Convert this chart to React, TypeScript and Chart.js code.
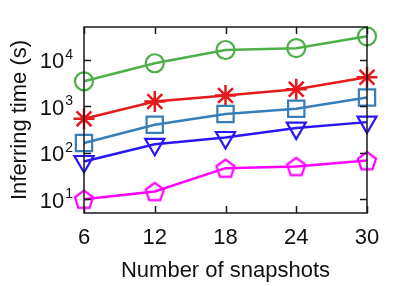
import { useEffect, useRef } from "react";
import { Chart, registerables } from "chart.js";

Chart.register(...registerables);

const snapshots = [6, 12, 18, 24, 30];
const greenCircle = [3400, 8300, 16000, 17500, 31500];
const redStar = [530, 1250, 1680, 2300, 4150];
const steelSquare = [160, 395, 670, 870, 1520];
const blueTriangle = [64, 150, 210, 335, 450];
const magentaPentagon = [9.9, 14.5, 46, 50, 67];
const yTickValues = [10, 100, 1000, 10000];
const yTickBase = "10";
const yTickExponents = ["1", "2", "3", "4"];

const FONT = "'Liberation Sans', Arial, Helvetica, sans-serif";

function makePentagon(color: string, r: number, lw: number): HTMLCanvasElement {
  const size = Math.ceil(2 * r + lw * 2 + 2);
  const c = document.createElement("canvas");
  c.width = size;
  c.height = size;
  const ctx = c.getContext("2d")!;
  const cx = size / 2;
  const cy = size / 2 + r * 0.1;
  ctx.strokeStyle = color;
  ctx.lineWidth = lw;
  ctx.lineJoin = "miter";
  ctx.beginPath();
  for (let i = 0; i < 5; i++) {
    const a = -Math.PI / 2 + (i * 2 * Math.PI) / 5;
    const px = cx + r * Math.cos(a);
    const py = cy + r * Math.sin(a);
    if (i === 0) ctx.moveTo(px, py);
    else ctx.lineTo(px, py);
  }
  ctx.closePath();
  ctx.stroke();
  return c;
}

const framePlugin = {
  id: "frame",
  afterDatasetsDraw(chart: any) {
    const { ctx, chartArea } = chart;
    const { left, right, top, bottom } = chartArea;
    const xs = chart.scales.x;
    const ys = chart.scales.y;
    const tl = 7;
    ctx.save();
    ctx.strokeStyle = "#1a1a1a";
    ctx.lineWidth = 1.5;
    ctx.beginPath();
    for (const v of snapshots) {
      const px = Math.round(xs.getPixelForValue(v)) + 0.5;
      ctx.moveTo(px, bottom);
      ctx.lineTo(px, bottom - tl);
      ctx.moveTo(px, top);
      ctx.lineTo(px, top + tl);
    }
    for (const v of yTickValues) {
      const py = Math.round(ys.getPixelForValue(v)) + 0.5;
      ctx.moveTo(left, py);
      ctx.lineTo(left + tl, py);
      ctx.moveTo(right, py);
      ctx.lineTo(right - tl, py);
    }
    ctx.stroke();
    ctx.beginPath();
    ctx.rect(left, top, right - left, bottom - top);
    ctx.stroke();

    // y tick labels with superscript exponents
    ctx.fillStyle = "#111";
    ctx.textBaseline = "alphabetic";
    ctx.textAlign = "right";
    const expRight = left - 11;
    yTickValues.forEach((v, i) => {
      const py = ys.getPixelForValue(v);
      ctx.font = `14px ${FONT}`;
      const ew = ctx.measureText(yTickExponents[i]).width;
      ctx.fillText(yTickExponents[i], expRight, py - 1);
      ctx.font = `22px ${FONT}`;
      ctx.fillText(yTickBase, expRight - ew - 1, py + 8.5);
    });
    ctx.restore();
  },
};

export default function App() {
  const ref = useRef<HTMLCanvasElement | null>(null);

  useEffect(() => {
    if (!ref.current) return;
    const pts = (arr: number[]) => snapshots.map((x, i) => ({ x, y: arr[i] }));
    const pentagon = makePentagon("#ff00ff", 9.5, 2.2);
    const chart = new Chart(ref.current, {
      type: "line",
      data: {
        datasets: [
          {
            data: pts(magentaPentagon),
            borderColor: "#ff00ff",
            backgroundColor: "transparent",
            borderWidth: 2.5,
            pointStyle: pentagon as any,
            pointRadius: 9,
          },
          {
            data: pts(blueTriangle),
            borderColor: "#2a17f5",
            backgroundColor: "transparent",
            borderWidth: 2.5,
            pointStyle: "triangle",
            pointRotation: 180,
            pointRadius: 11,
            pointBorderWidth: 2.2,
          },
          {
            data: pts(steelSquare),
            borderColor: "#377eb8",
            backgroundColor: "transparent",
            borderWidth: 2.5,
            pointStyle: "rect",
            pointRadius: 11.5,
            pointBorderWidth: 2.2,
          },
          {
            data: pts(redStar),
            borderColor: "#e41a1c",
            backgroundColor: "transparent",
            borderWidth: 2.5,
            pointStyle: "star",
            pointRadius: 10.5,
            pointBorderWidth: 2.5,
          },
          {
            data: pts(greenCircle),
            borderColor: "#4daf4a",
            backgroundColor: "transparent",
            borderWidth: 2.5,
            pointStyle: "circle",
            pointRadius: 9,
            pointBorderWidth: 2.2,
          },
        ],
      },
      options: {
        animation: false,
        responsive: true,
        maintainAspectRatio: false,
        clip: false as any,
        layout: { padding: { left: 0, top: 27, right: 42, bottom: 0 } },
        plugins: {
          legend: { display: false },
          tooltip: { enabled: false },
        },
        scales: {
          x: {
            type: "linear",
            min: 6,
            max: 30,
            afterBuildTicks: (scale: any) => {
              scale.ticks = snapshots.map((v) => ({ value: v }));
            },
            afterFit: (scale: any) => {
              scale.height = 73;
            },
            grid: { display: false, drawTicks: false },
            border: { display: false },
            ticks: {
              color: "#111",
              font: { family: FONT, size: 22 },
              padding: 12,
              maxRotation: 0,
              autoSkip: false,
              callback: (v: any) => String(v),
            },
            title: {
              display: true,
              text: "Number of snapshots",
              color: "#111",
              font: { family: FONT, size: 22 },
              padding: { top: 0, bottom: 2 },
            },
          },
          y: {
            type: "logarithmic",
            min: 5,
            max: 50000,
            afterBuildTicks: (scale: any) => {
              scale.ticks = yTickValues.map((v) => ({ value: v }));
            },
            afterFit: (scale: any) => {
              scale.width = 84;
            },
            grid: { display: false, drawTicks: false },
            border: { display: false },
            ticks: { display: false },
            title: {
              display: true,
              text: "Inferring time (s)",
              color: "#111",
              font: { family: FONT, size: 22 },
              padding: { top: 7, bottom: 0 },
            },
          },
        },
      },
      plugins: [framePlugin],
    });
    return () => chart.destroy();
  }, []);

  return (
    <div style={{ position: "absolute", left: 0, top: 0, width: 409, height: 286, background: "#fff" }}>
      <canvas ref={ref} />
    </div>
  );
}
